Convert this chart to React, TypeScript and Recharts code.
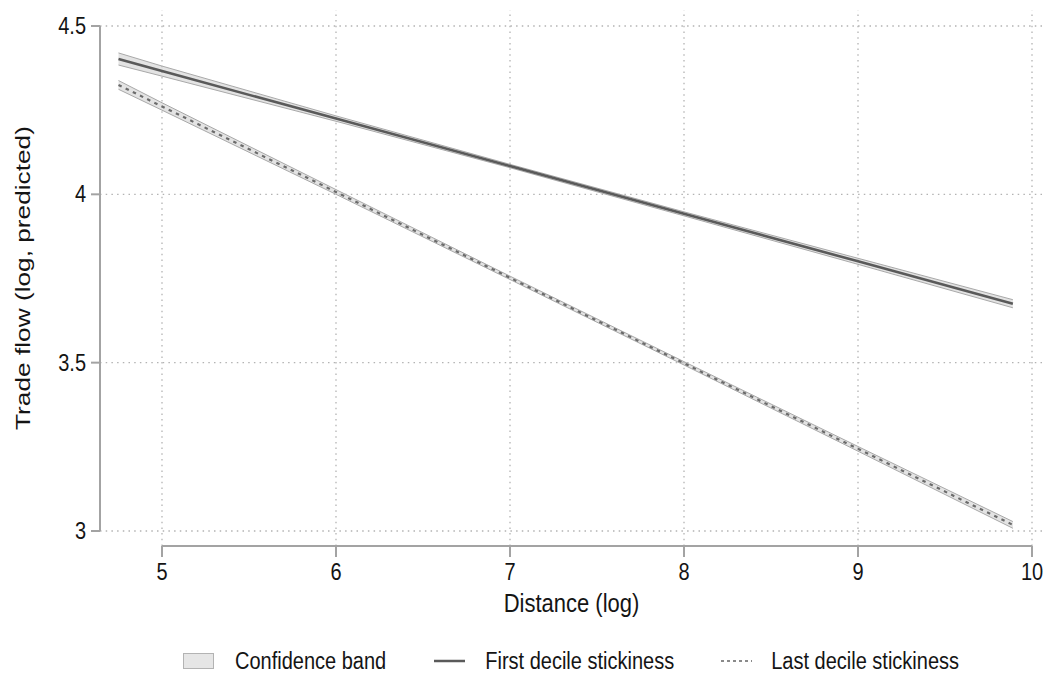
import React from "react";
import {
  ComposedChart,
  Line,
  Area,
  XAxis,
  YAxis,
  ReferenceLine,
  Legend,
} from "recharts";

// Distance (log) points at which predictions are read
const distance = [4.75, 5, 6, 7, 8, 9, 9.89];

// First decile stickiness: prediction and confidence band
const firstDecile = [4.402, 4.366, 4.225, 4.084, 3.942, 3.801, 3.675];
const firstLow = [4.384, 4.351, 4.217, 4.079, 3.936, 3.792, 3.663];
const firstHigh = [4.42, 4.381, 4.233, 4.089, 3.948, 3.81, 3.687];

// Last decile stickiness: prediction and confidence band
const lastDecile = [4.325, 4.261, 4.007, 3.752, 3.498, 3.244, 3.018];
const lastLow = [4.312, 4.25, 4.0, 3.747, 3.493, 3.237, 3.008];
const lastHigh = [4.338, 4.272, 4.014, 3.757, 3.503, 3.251, 3.028];

const xTicks = [5, 6, 7, 8, 9, 10];
const yTicks = [3, 3.5, 4, 4.5];
const xLabel = "Distance (log)";
const yLabel = "Trade flow (log, predicted)";
const legendItems = ["Confidence band", "First decile stickiness", "Last decile stickiness"];

// axis extents (Stata-style padded plot region)
const X_MIN = 4.6437;
const X_MAX = 10.0632;
const Y_MIN = 2.9554;
const Y_MAX = 4.5475;

const data = distance.map((x, i) => ({
  x,
  first: firstDecile[i],
  firstBand: [firstLow[i], firstHigh[i]],
  last: lastDecile[i],
  lastBand: [lastLow[i], lastHigh[i]],
}));

const FONT = "'Liberation Sans', Arial, sans-serif";
const AXIS_COLOR = "#a3a3a3";
const GRID_COLOR = "#b3b3b3";
const TXT = "#141414";
const VSTRETCH = 1.15;

const XTick = (props: any) => {
  const { x, y, payload } = props;
  const cy = y + 26;
  return (
    <g>
      <line x1={x} y1={y} x2={x} y2={y + 11} stroke={AXIS_COLOR} strokeWidth={2} />
      <text
        transform={`translate(${x} ${cy}) scale(1 ${VSTRETCH})`}
        x={0}
        y={0}
        textAnchor="middle"
        dominantBaseline="central"
        fontSize={20}
        fontFamily={FONT}
        fill={TXT}
      >
        {payload.value}
      </text>
    </g>
  );
};

const YTick = (props: any) => {
  const { x, y, payload } = props;
  return (
    <g>
      <line x1={x - 9} y1={y} x2={x} y2={y} stroke={AXIS_COLOR} strokeWidth={2} />
      <text
        transform={`translate(${x - 14} ${y}) scale(1 ${VSTRETCH})`}
        x={0}
        y={0}
        textAnchor="end"
        dominantBaseline="central"
        fontSize={20}
        fontFamily={FONT}
        fill={TXT}
      >
        {payload.value}
      </text>
    </g>
  );
};

const spanStyle = (mr: number) => ({
  marginRight: mr,
  display: "inline-block",
  transform: `scaleY(${VSTRETCH})`,
});

const LegendContent = () => (
  <div
    style={{
      height: 46,
      boxSizing: "border-box",
      paddingTop: 22,
      paddingLeft: 183,
      display: "flex",
      alignItems: "center",
      fontFamily: FONT,
      fontSize: 20,
      color: TXT,
      lineHeight: "22px",
    }}
  >
    <svg width={31} height={22} style={{ marginRight: 21 }}>
      <rect x={0.5} y={3.5} width={30} height={15} fill="#e6e6e6" stroke="#b3b3b3" strokeWidth={1} />
    </svg>
    <span style={spanStyle(48)}>{legendItems[0]}</span>
    <svg width={31} height={22} style={{ marginRight: 20 }}>
      <line x1={0} y1={11} x2={31} y2={11} stroke="#5a5a5a" strokeWidth={2.5} />
    </svg>
    <span style={spanStyle(47)}>{legendItems[1]}</span>
    <svg width={31} height={22} style={{ marginRight: 19 }}>
      <line x1={0} y1={11} x2={31} y2={11} stroke="#8a8a8a" strokeWidth={2} strokeDasharray="3 3" />
    </svg>
    <span style={spanStyle(0)}>{legendItems[2]}</span>
  </div>
);

export default function App() {
  return (
    <div style={{ position: "absolute", left: 0, top: 0, background: "#fff" }}>
      <ComposedChart
        width={1043}
        height={673}
        data={data}
        margin={{ top: 10, right: 0, bottom: 0, left: 0 }}
      >
        <XAxis
          dataKey="x"
          type="number"
          domain={[X_MIN, X_MAX]}
          ticks={xTicks}
          allowDataOverflow
          axisLine={false}
          tickLine={false}
          tickSize={0}
          tickMargin={0}
          height={81}
          tick={<XTick />}
          interval={0}
          label={{
            content: (p: any) => {
              const vb = p.viewBox;
              const cx = vb.x + vb.width / 2;
              const cy = vb.y + 57;
              return (
                <text
                  transform={`translate(${cx} ${cy}) scale(1 ${VSTRETCH})`}
                  x={0}
                  y={0}
                  textAnchor="middle"
                  dominantBaseline="central"
                  fontSize={22}
                  fontFamily={FONT}
                  fill={TXT}
                >
                  {xLabel}
                </text>
              );
            },
          }}
        />
        <YAxis
          type="number"
          domain={[Y_MIN, Y_MAX]}
          ticks={yTicks}
          allowDataOverflow
          axisLine={false}
          tickLine={false}
          tickSize={0}
          tickMargin={0}
          width={100}
          tick={<YTick />}
          interval={0}
          label={{
            content: (p: any) => {
              const vb = p.viewBox;
              const cx = vb.x + 22;
              const cy = vb.y + vb.height / 2;
              return (
                <text
                  transform={`translate(${cx} ${cy}) rotate(-90) scale(1.25 1)`}
                  x={0}
                  y={0}
                  textAnchor="middle"
                  dominantBaseline="central"
                  fontSize={21}
                  fontFamily={FONT}
                  fill={TXT}
                >
                  {yLabel}
                </text>
              );
            },
          }}
        />
        {yTicks.map((t) => (
          <ReferenceLine
            key={`gy${t}`}
            y={t}
            stroke={GRID_COLOR}
            strokeWidth={1.3}
            strokeDasharray="1.5 4.2"
          />
        ))}
        {xTicks.map((t) => (
          <ReferenceLine
            key={`gx${t}`}
            x={t}
            stroke={GRID_COLOR}
            strokeWidth={1.3}
            strokeDasharray="1.5 4.2"
          />
        ))}
        <ReferenceLine
          segment={[
            { x: X_MIN, y: yTicks[0] },
            { x: X_MIN, y: yTicks[yTicks.length - 1] },
          ]}
          stroke={AXIS_COLOR}
          strokeWidth={2}
          ifOverflow="visible"
        />
        <ReferenceLine
          segment={[
            { x: xTicks[0], y: Y_MIN },
            { x: xTicks[xTicks.length - 1], y: Y_MIN },
          ]}
          stroke={AXIS_COLOR}
          strokeWidth={2}
          ifOverflow="visible"
        />
        <Area
          dataKey="firstBand"
          type="linear"
          fill="#e3e3e3"
          fillOpacity={1}
          stroke="#a9a9a9"
          strokeWidth={1}
          isAnimationActive={false}
          activeDot={false}
          legendType="none"
        />
        <Area
          dataKey="lastBand"
          type="linear"
          fill="#e3e3e3"
          fillOpacity={1}
          stroke="#a9a9a9"
          strokeWidth={1}
          isAnimationActive={false}
          activeDot={false}
          legendType="none"
        />
        <Line
          dataKey="first"
          type="linear"
          stroke="#5a5a5a"
          strokeWidth={2.6}
          dot={false}
          activeDot={false}
          isAnimationActive={false}
        />
        <Line
          dataKey="last"
          type="linear"
          stroke="#6b6b6b"
          strokeWidth={2.2}
          strokeDasharray="3.5 4.5"
          dot={false}
          activeDot={false}
          isAnimationActive={false}
        />
        <Legend verticalAlign="bottom" content={<LegendContent />} />
      </ComposedChart>
    </div>
  );
}
